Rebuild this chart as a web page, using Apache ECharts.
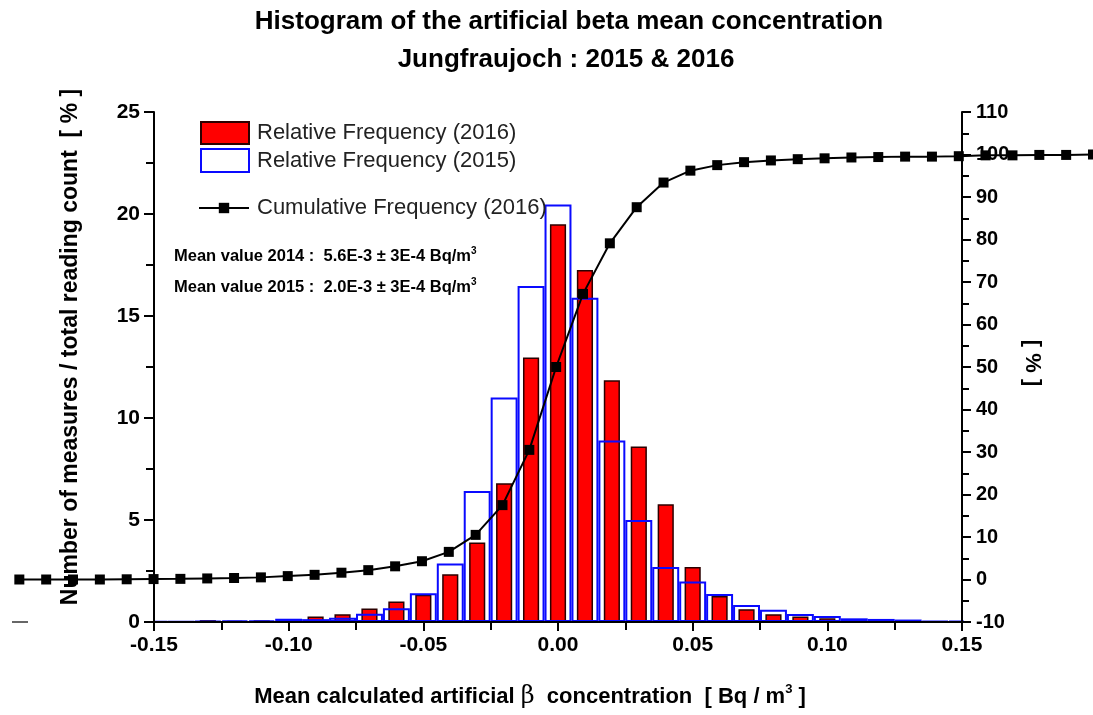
<!DOCTYPE html>
<html>
<head>
<meta charset="utf-8">
<title>Histogram of the artificial beta mean concentration</title>
<script src="https://cdn.jsdelivr.net/npm/echarts@6/dist/echarts.min.js"></script>
<style>
  html, body { margin: 0; padding: 0; background: #fff; }
  #main { width: 1093px; height: 715px; }
</style>
</head>
<body>
<div id="main"></div>
<script>
// bin centres [Bq/m3]
const binCenters = [-0.15, -0.14, -0.13, -0.12, -0.11, -0.10, -0.09, -0.08, -0.07, -0.06,
  -0.05, -0.04, -0.03, -0.02, -0.01, 0.00, 0.01, 0.02, 0.03, 0.04,
  0.05, 0.06, 0.07, 0.08, 0.09, 0.10, 0.11, 0.12, 0.13, 0.14, 0.15];

// relative frequency [%]
const freq2016 = [0.02, 0.03, 0.09, 0.06, 0.08, 0.15, 0.27, 0.38, 0.66, 1.0,
  1.34, 2.34, 3.9, 6.8, 12.96, 19.5, 17.25, 11.85, 8.6, 5.77,
  2.7, 1.27, 0.63, 0.38, 0.27, 0.18, 0.12, 0.1, 0.05, 0.03, 0.02];
const freq2015 = [0.02, 0.03, 0.04, 0.08, 0.08, 0.16, 0.14, 0.21, 0.41, 0.67,
  1.41, 2.87, 6.42, 11.0, 16.47, 20.47, 15.9, 8.9, 5.0, 2.7,
  1.98, 1.37, 0.83, 0.6, 0.39, 0.29, 0.18, 0.15, 0.12, 0.05, 0.05];

// cumulative frequency 2016 [%] (goes past the x range on both sides)
const cumX = [-0.20, -0.19, -0.18, -0.17, -0.16, -0.15, -0.14, -0.13, -0.12, -0.11,
  -0.10, -0.09, -0.08, -0.07, -0.06, -0.05, -0.04, -0.03, -0.02, -0.01,
  0.00, 0.01, 0.02, 0.03, 0.04, 0.05, 0.06, 0.07, 0.08, 0.09,
  0.10, 0.11, 0.12, 0.13, 0.14, 0.15, 0.16, 0.17, 0.18, 0.19, 0.20];
const cum2016 = [0, 0, 0, 0, 0.05, 0.1, 0.15, 0.25, 0.35, 0.5,
  0.8, 1.1, 1.6, 2.2, 3.1, 4.3, 6.5, 10.5, 17.5, 30.5,
  50, 67.2, 79.1, 87.6, 93.4, 96.2, 97.5, 98.2, 98.6, 98.9,
  99.1, 99.3, 99.4, 99.5, 99.5, 99.6, 99.8, 99.8, 99.9, 99.9, 100];

const seriesNames = ['Relative Frequency (2016)', 'Relative Frequency (2015)', 'Cumulative Frequency (2016)'];
const meanLines = [
  ['Mean value 2014 :  5.6E-3 \u00b1 3E-4 Bq/m', '3'],
  ['Mean value 2015 :  2.0E-3 \u00b1 3E-4 Bq/m', '3']
];

const FONT = 'Arial, "Liberation Sans", sans-serif';
const pairs = (xs, ys) => xs.map((x, i) => [x, ys[i]]);

// plot box
const G = { left: 154, top: 112, width: 808, height: 510 };
const X_MIN = -0.15, X_MAX = 0.15;
// second, wider box for the cumulative line so it can run past the axes
const CUM_MIN = -0.20, CUM_MAX = 0.20;
const pxPerUnit = G.width / (X_MAX - X_MIN);

const chart = echarts.init(document.getElementById('main'));

const axisBlack = { color: '#000', width: 2 };
const tickLabel = { fontWeight: 'bold', color: '#000', fontFamily: FONT };
const legendText = { fontSize: 22, color: '#222', fontFamily: FONT, padding: [0, 0, 0, 3] };

const option = {
  animation: false,
  backgroundColor: '#fff',
  grid: [
    { left: G.left, top: G.top, width: G.width, height: G.height },
    { left: G.left - (X_MIN - CUM_MIN) * pxPerUnit, top: G.top,
      width: (CUM_MAX - CUM_MIN) * pxPerUnit, height: G.height }
  ],
  legend: [
    { data: [seriesNames[0]], icon: 'rect', left: 200, top: 121, padding: 0, itemWidth: 48, itemHeight: 22, selectedMode: false, textStyle: legendText },
    { data: [seriesNames[1]], icon: 'rect', left: 200, top: 148, padding: 0, itemWidth: 48, itemHeight: 23, selectedMode: false, textStyle: legendText },
    { data: [seriesNames[2]], left: 198, top: 197, padding: 0, itemWidth: 50, itemHeight: 13, selectedMode: false, textStyle: legendText }
  ],
  xAxis: [
    {
      type: 'value', gridIndex: 0, min: X_MIN, max: X_MAX, interval: 0.05, z: 10,
      axisLine: { onZero: false, lineStyle: axisBlack },
      axisTick: { show: true, length: 9, lineStyle: axisBlack },
      minorTick: { show: true, splitNumber: 2, length: 8, lineStyle: axisBlack },
      splitLine: { show: false },
      axisLabel: Object.assign({ margin: 13, fontSize: 21, formatter: v => v.toFixed(2) }, tickLabel)
    },
    { type: 'value', gridIndex: 0, min: X_MIN, max: X_MAX, show: false },
    { type: 'value', gridIndex: 1, min: CUM_MIN, max: CUM_MAX, show: false }
  ],
  yAxis: [
    {
      type: 'value', gridIndex: 0, min: 0, max: 25, interval: 5, position: 'left', z: 10,
      axisLine: { show: true, onZero: false, lineStyle: axisBlack },
      axisTick: { show: true, length: 10, lineStyle: axisBlack },
      minorTick: { show: true, splitNumber: 2, length: 8, lineStyle: axisBlack },
      splitLine: { show: false },
      axisLabel: Object.assign({ margin: 14, fontSize: 21 }, tickLabel)
    },
    {
      type: 'value', gridIndex: 0, min: -10, max: 110, interval: 10, position: 'right', z: 10,
      axisLine: { show: true, onZero: false, lineStyle: axisBlack },
      axisTick: { show: true, length: 9, lineStyle: axisBlack },
      minorTick: { show: true, splitNumber: 2, length: 7, lineStyle: axisBlack },
      splitLine: { show: false },
      axisLabel: Object.assign({ margin: 14, fontSize: 20 }, tickLabel)
    },
    { type: 'value', gridIndex: 1, min: -10, max: 110, show: false }
  ],
  series: [
    {
      name: seriesNames[0], type: 'bar', xAxisIndex: 0, yAxisIndex: 0,
      barWidth: '60%', data: pairs(binCenters, freq2016),
      itemStyle: { color: '#ff0000', borderColor: '#2b0000', borderWidth: 1.5 }
    },
    {
      name: seriesNames[1], type: 'bar', xAxisIndex: 1, yAxisIndex: 0,
      barWidth: '100%', data: pairs(binCenters, freq2015),
      itemStyle: { color: 'rgba(255,255,255,0)', borderColor: '#0a0aff', borderWidth: 2 }
    },
    {
      name: seriesNames[2], type: 'line', xAxisIndex: 2, yAxisIndex: 2,
      data: pairs(cumX, cum2016), clip: false, z: 6,
      symbol: 'rect', symbolSize: 10,
      lineStyle: { color: '#000', width: 2 },
      itemStyle: { color: '#000' }
    }
  ],
  graphic: [
    // hide the half bins that spill past the x range
    { type: 'rect', z: 5, shape: { x: 134, y: 612, width: 19, height: 14 }, style: { fill: '#fff' } },
    { type: 'rect', z: 5, shape: { x: 964, y: 612, width: 20, height: 14 }, style: { fill: '#fff' } },
    {
      type: 'text', x: 569, y: 22,
      style: { text: 'Histogram of the artificial beta mean concentration', font: 'bold 26px ' + FONT, fill: '#000', align: 'center', verticalAlign: 'middle' }
    },
    {
      type: 'text', x: 566, y: 60,
      style: { text: 'Jungfraujoch : 2015 & 2016', font: 'bold 26px ' + FONT, fill: '#000', align: 'center', verticalAlign: 'middle' }
    },
    ...meanLines.map((m, i) => ({
      type: 'text', x: 174, y: 256 + i * 31,
      style: {
        text: '{b|' + m[0] + '}{s|' + m[1] + '}',
        verticalAlign: 'middle',
        rich: {
          b: { fontSize: 16.5, fontWeight: 'bold', fontFamily: FONT, fill: '#000', lineHeight: 20 },
          s: { fontSize: 10, fontWeight: 'bold', fontFamily: FONT, fill: '#000', verticalAlign: 'top', lineHeight: 20 }
        }
      }
    })),
    {
      type: 'text', x: 530, y: 697,
      style: {
        text: '{b|Mean calculated artificial }{g|\u03b2}{b|  concentration  [ Bq / m}{s|3}{b| ]}',
        align: 'center', verticalAlign: 'middle',
        rich: {
          b: { fontSize: 22, fontWeight: 'bold', fontFamily: FONT, fill: '#000', lineHeight: 28 },
          g: { fontSize: 24, fontFamily: '"DejaVu Serif", serif', fill: '#000', lineHeight: 28 },
          s: { fontSize: 13, fontWeight: 'bold', fontFamily: FONT, fill: '#000', verticalAlign: 'top', lineHeight: 28 }
        }
      }
    },
    {
      type: 'text', x: 71, y: 347, rotation: Math.PI / 2,
      style: { text: 'Number of measures / total reading count  [ % ]', font: 'bold 23px ' + FONT, fill: '#000', align: 'center', verticalAlign: 'middle' }
    },
    {
      type: 'text', x: 1032, y: 363, rotation: -Math.PI / 2,
      style: { text: '[ % ]', font: 'bold 22px ' + FONT, fill: '#000', align: 'center', verticalAlign: 'middle' }
    },
    {
      type: 'line', shape: { x1: 12, y1: 622, x2: 28, y2: 622 },
      style: { stroke: '#000', lineWidth: 1.2 }
    }
  ]
};

chart.setOption(option);
</script>
</body>
</html>
